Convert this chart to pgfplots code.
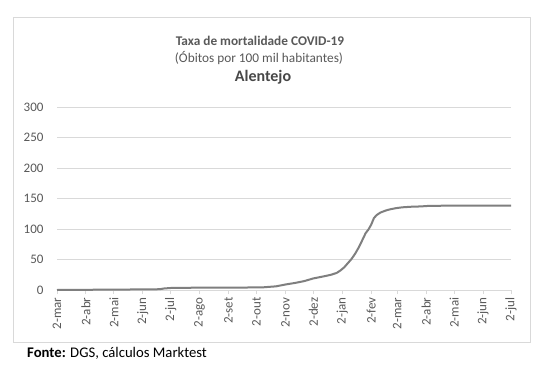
\documentclass[border=0pt]{standalone}
\usepackage{pgfplots}
\pgfplotsset{compat=1.18}
\usepackage{fontspec}
\setmainfont{Carlito}
\definecolor{txt}{HTML}{595959}
\definecolor{grd}{HTML}{D9D9D9}
\definecolor{ln}{HTML}{7F7F7F}
\begin{document}
\begin{tikzpicture}[x=1pt,y=1pt]
\useasboundingbox (0,0) rectangle (540,375);
\fill[white] (0,0) rectangle (540,375);
\draw[grd, line width=0.9pt] (13,33) rectangle (530,358);
\begin{axis}[
  at={(57pt,85pt)}, anchor=south west,
  scale only axis, width=454pt, height=183pt,
  xmin=0, xmax=487, ymin=0, ymax=300,
  ytick={0,50,...,300},
  xtick={0,31,61,92,122,153,184,214,245,275,306,337,365,396,426,457,487},
  xticklabels={2-mar,2-abr,2-mai,2-jun,2-jul,2-ago,2-set,2-out,2-nov,2-dez,2-jan,2-fev,2-mar,2-abr,2-mai,2-jun,2-jul},
  axis lines*=left,
  y axis line style={draw=none},
  x axis line style={grd, line width=0.9pt},
  ymajorgrids, major grid style={grd, line width=0.9pt},
  tick align=outside,
  xtick style={grd, line width=0.9pt}, major tick length=4pt,
  ytick style={draw=none},
  /pgf/number format/assume math mode=true,
  ticklabel style={font=\fontsize{13}{13}\selectfont, text=txt},
  xticklabel style={rotate=90, anchor=east, xshift=0pt},
  yticklabel style={anchor=east, xshift=-6pt},
  clip=false,
]
\addplot[ln, line width=2pt, line join=round] coordinates {
(0,0) (30,0.3) (60,0.7) (90,0.9) (100,1.0) (110,1.3) (115,2.5) (122,3.3) (130,3.6) (160,3.8) (200,4.0) (222,4.5) (235,6) (245,9) (255,11.5) (265,14.5) (275,19) (285,22) (294,25) (300,28) (304,32) (308,37) (312,44) (316,51) (320,60) (323,68) (326,77) (331,93) (334,99) (337,107) (340,118) (343,123) (347,127) (353,130.5) (358,132.5) (363,134) (370,135.5) (380,136.5) (390,137) (395,137.5) (400,138) (420,138.2) (487,138.4)
};
\end{axis}
\node[anchor=base, text=txt, font=\fontsize{13.3}{14}\selectfont\bfseries] at (260,329.5) {Taxa de mortalidade COVID-19};
\node[anchor=base, text=txt, font=\fontsize{13.3}{14}\selectfont] at (259,312) {(Óbitos por 100 mil habitantes)};
\node[anchor=base, text=txt!80!black, font=\fontsize{16}{17}\selectfont\bfseries] at (263,293) {Alentejo};
\node[anchor=base west, inner sep=0pt, font=\fontsize{14.7}{15}\selectfont] at (27,18) {\textbf{Fonte:} DGS, cálculos Marktest};
\end{tikzpicture}
\end{document}
